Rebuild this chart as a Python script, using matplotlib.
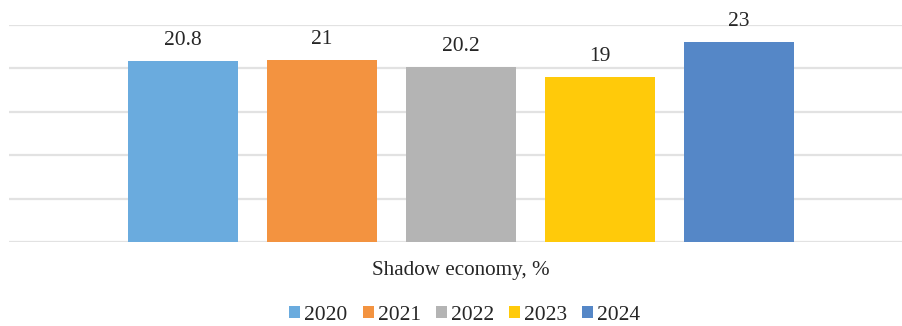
import numpy as np
import matplotlib
matplotlib.use("Agg")
import matplotlib.pyplot as plt

# data
years = ["2020", "2021", "2022", "2023", "2024"]
values = [20.8, 21, 20.2, 19, 23]
labels = ["20.8", "21", "20.2", "19", "23"]
colors = ["#6AABDE", "#F39340", "#B4B4B4", "#FFCA0A", "#5587C7"]
category = "Shadow economy, %"

plt.rcParams["font.family"] = ["Liberation Serif", "DejaVu Serif"]

fig = plt.figure(figsize=(9.03, 3.26), dpi=100)
ax = fig.add_axes([9 / 903, 1 - 242 / 326, 1 - 9 / 903, (242 - 25) / 326])

x = np.arange(len(years))
bars = ax.bar(x, values, width=0.79, color=colors, label=years, zorder=3)
for b, lab in zip(bars, labels):
    ax.annotate(lab, (b.get_x() + b.get_width() / 2, b.get_height()),
                xytext=(0, 8), textcoords="offset points",
                ha="center", va="bottom", fontsize=15.5, color="#262626")

ax.set_xlim(-1.252, 5.18)
ax.set_ylim(0, 25)
ax.set_yticks([0, 5, 10, 15, 20, 25])
ax.yaxis.grid(True, color="#E2E2E2", linewidth=1.6, zorder=0)
ax.tick_params(left=False, bottom=False, labelleft=False, labelbottom=False)
for s in ax.spines.values():
    s.set_visible(False)

fig.text(461 / 903, 1 - 271 / 326, category, ha="center", va="center",
         fontsize=15.2, color="#262626")

fig.legend(handles=bars, labels=years, loc="center", ncol=5,
           bbox_to_anchor=(465 / 903, 1 - 315 / 326), frameon=False,
           borderpad=0.2, fontsize=15.5, handlelength=0.5, handleheight=0.5,
           handletextpad=0.2, columnspacing=0.7, labelcolor="#262626")

fig.savefig("out.png", dpi=100)
